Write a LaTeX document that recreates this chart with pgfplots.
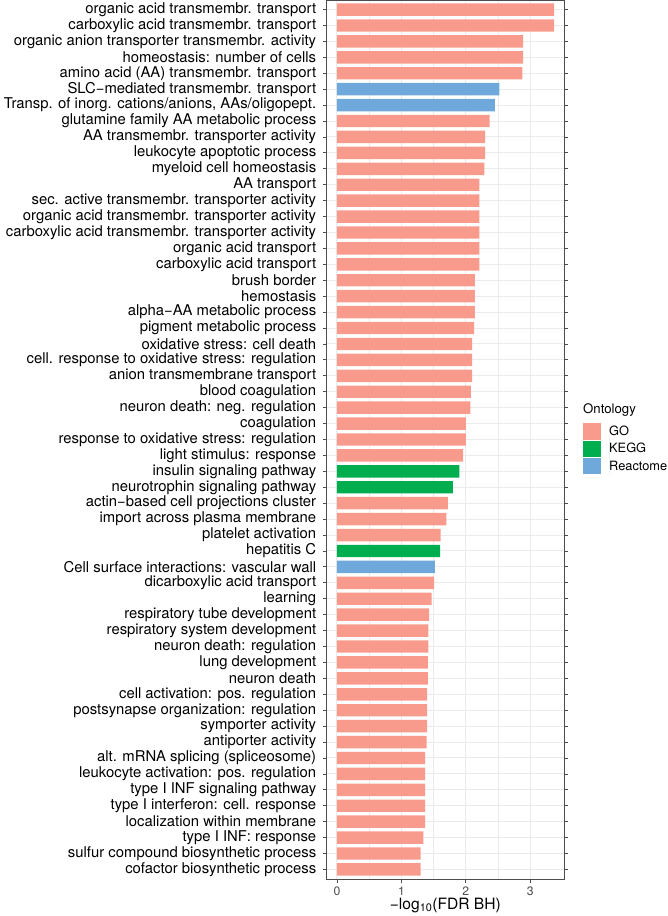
\documentclass[border=0pt]{standalone}
\usepackage{fontspec}
\setmainfont{TeX Gyre Heros}
\usepackage{pgfplots}
\pgfplotsset{compat=1.18}
\definecolor{goC}{HTML}{F99B8C}
\definecolor{keggC}{HTML}{00AE4F}
\definecolor{reaC}{HTML}{6FA8DA}
\definecolor{gridC}{HTML}{EBEBEB}
\definecolor{axC}{HTML}{4D4D4D}
\begin{document}
\begin{tikzpicture}
\begin{axis}[
  at={(0,0)}, anchor=south west,
  scale only axis, width=237.3bp, height=879bp,
  xbar, bar shift=0pt, bar width=0.78,
  y dir=reverse, clip=false,
  xmin=-0.16, xmax=3.525, ymin=0.4, ymax=55.6,
  xtick={0,1,2,3}, minor xtick={0.5,1.5,2.5},
  ytick={1,...,55},
  yticklabels={
    organic acid transmembr. transport,
    carboxylic acid transmembr. transport,
    organic anion transporter transmembr. activity,
    homeostasis: number of cells,
    amino acid (AA) transmembr. transport,
    SLC−mediated transmembr. transport,
    {Transp. of inorg. cations/anions, AAs/oligopept.},
    glutamine family AA metabolic process,
    AA transmembr. transporter activity,
    leukocyte apoptotic process,
    myeloid cell homeostasis,
    AA transport,
    sec. active transmembr. transporter activity,
    organic acid transmembr. transporter activity,
    carboxylic acid transmembr. transporter activity,
    organic acid transport,
    carboxylic acid transport,
    brush border,
    hemostasis,
    alpha−AA metabolic process,
    pigment metabolic process,
    oxidative stress: cell death,
    cell. response to oxidative stress: regulation,
    anion transmembrane transport,
    blood coagulation,
    neuron death: neg. regulation,
    coagulation,
    response to oxidative stress: regulation,
    light stimulus: response,
    insulin signaling pathway,
    neurotrophin signaling pathway,
    actin−based cell projections cluster,
    import across plasma membrane,
    platelet activation,
    hepatitis C,
    Cell surface interactions: vascular wall,
    dicarboxylic acid transport,
    learning,
    respiratory tube development,
    respiratory system development,
    neuron death: regulation,
    lung development,
    neuron death,
    cell activation: pos. regulation,
    postsynapse organization: regulation,
    symporter activity,
    antiporter activity,
    alt. mRNA splicing (spliceosome),
    leukocyte activation: pos. regulation,
    type I INF signaling pathway,
    type I interferon: cell. response,
    localization within membrane,
    type I INF: response,
    sulfur compound biosynthetic process,
    cofactor biosynthetic process},
  /pgf/number format/assume math mode=true,
  yticklabel style={font=\fontsize{14.85bp}{17bp}\selectfont, text=black, xshift=-3bp},
  xticklabel style={font=\fontsize{12.2bp}{13bp}\selectfont, text=axC},
  tick align=outside, major tick length=4bp,
  tick style={color=axC, line width=0.8bp},
  minor tick length=0pt,
  axis line style={color=axC, line width=0.9bp},
  grid=both,
  major grid style={color=gridC, line width=1bp},
  minor grid style={color=gridC, line width=0.5bp},
  xlabel={−log\textsubscript{10}(FDR BH)},
  xlabel style={font=\fontsize{15.6bp}{17bp}\selectfont, at={(rel axis cs:0.5,0)}, anchor=base, yshift=-30bp},
  legend style={at={(rel axis cs:1.08,0.519)}, anchor=north west, draw=none, fill=none,
    inner sep=0pt, row sep=0pt, font=\fontsize{12.8bp}{14bp}\selectfont,
    nodes={inner sep=0pt}},
  legend cell align=left,
  legend image code/.code={\fill[#1,draw=none] (0bp,-8.2bp) rectangle (18bp,8.2bp); \path (26bp,-8.65bp) rectangle (26bp,8.65bp);},
]
\addplot[fill=goC, draw=none] coordinates {
(3.37,1) (3.37,2) (2.89,3) (2.89,4) (2.88,5)
(2.37,8) (2.30,9) (2.30,10) (2.29,11) (2.21,12) (2.21,13) (2.21,14) (2.21,15)
(2.21,16) (2.21,17) (2.14,18) (2.14,19) (2.14,20) (2.13,21) (2.10,22) (2.10,23)
(2.10,24) (2.08,25) (2.07,26) (2.00,27) (2.00,28) (1.96,29)
(1.72,32) (1.70,33) (1.61,34)
(1.51,37) (1.47,38) (1.43,39) (1.42,40) (1.42,41) (1.41,42) (1.41,43) (1.40,44)
(1.40,45) (1.40,46) (1.39,47) (1.37,48) (1.37,49) (1.37,50) (1.37,51) (1.37,52)
(1.34,53) (1.30,54) (1.30,55)
};
\addlegendentry{GO}
\addplot[fill=keggC, draw=none] coordinates {
(1.90,30) (1.80,31) (1.60,35)
};
\addlegendentry{KEGG}
\addplot[fill=reaC, draw=none] coordinates {
(2.52,6) (2.45,7) (1.52,36)
};
\addlegendentry{Reactome}
\node[anchor=west, inner sep=0pt, font=\fontsize{13.2bp}{15bp}\selectfont] at (rel axis cs:1.08,0.5336) {Ontology};
\end{axis}
\pgfresetboundingbox
\path[use as bounding box] (-326.7bp,-37bp) rectangle (341.3bp,879bp);
\end{tikzpicture}
\end{document}
